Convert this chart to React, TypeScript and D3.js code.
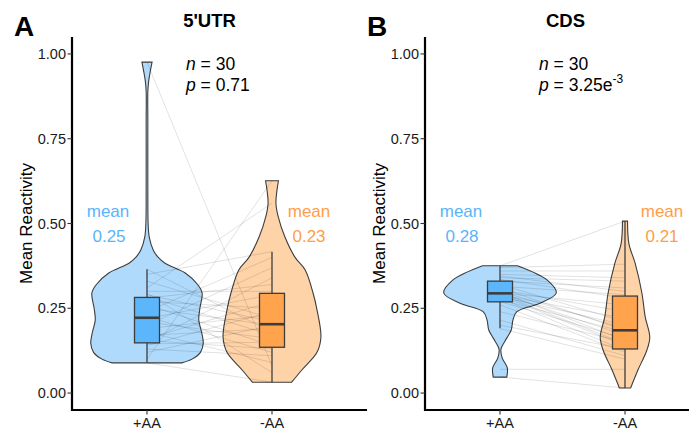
import React from 'react';
import * as d3 from 'd3';

// ---- data ----
const groups = ['+AA', '-AA'];
const panelTitles = ["5'UTR", 'CDS'];
const panelLetters = ['A', 'B'];
const yTicks = [0, 0.25, 0.5, 0.75, 1.0];

// paired samples (n = 30)
const utrPlus = [0.089, 0.10, 0.12, 0.13, 0.14, 0.145, 0.15, 0.155, 0.16, 0.17, 0.18, 0.19, 0.20, 0.21, 0.22, 0.225, 0.24, 0.25, 0.26, 0.27, 0.28, 0.285, 0.29, 0.295, 0.30, 0.31, 0.33, 0.35, 0.365, 0.976];
const utrMinus = [0.032, 0.626, 0.20, 0.11, 0.24, 0.15, 0.34, 0.13, 0.27, 0.19, 0.09, 0.23, 0.37, 0.16, 0.29, 0.12, 0.40, 0.20, 0.14, 0.25, 0.32, 0.17, 0.21, 0.06, 0.30, 0.56, 0.22, 0.417, 0.18, 0.08];
const cdsPlus = [0.047, 0.07, 0.19, 0.20, 0.215, 0.24, 0.26, 0.27, 0.275, 0.28, 0.285, 0.288, 0.29, 0.292, 0.294, 0.295, 0.298, 0.30, 0.305, 0.31, 0.315, 0.32, 0.33, 0.335, 0.34, 0.345, 0.35, 0.36, 0.37, 0.375];
const cdsMinus = [0.015, 0.07, 0.10, 0.13, 0.11, 0.15, 0.12, 0.16, 0.18, 0.125, 0.20, 0.14, 0.22, 0.145, 0.17, 0.26, 0.155, 0.19, 0.24, 0.185, 0.29, 0.21, 0.31, 0.28, 0.33, 0.30, 0.34, 0.36, 0.38, 0.507];

// violin outlines: reactivity level -> relative half width
const utrPlusLevels = [0.089, 0.10, 0.12, 0.147, 0.18, 0.215, 0.25, 0.295, 0.32, 0.354, 0.383, 0.40, 0.422, 0.46, 0.50, 0.60, 0.80, 0.89, 0.92, 0.95, 0.976];
const utrPlusWidths = [0.62, 0.80, 0.95, 1.0, 0.97, 0.92, 0.94, 0.98, 0.90, 0.68, 0.32, 0.20, 0.11, 0.04, 0.02, 0.015, 0.015, 0.015, 0.03, 0.06, 0.09];
const utrMinusLevels = [0.032, 0.068, 0.12, 0.165, 0.245, 0.295, 0.363, 0.40, 0.46, 0.52, 0.56, 0.60, 0.626];
const utrMinusWidths = [0.35, 0.53, 0.80, 0.87, 0.80, 0.73, 0.59, 0.41, 0.23, 0.11, 0.07, 0.09, 0.115];
const cdsPlusLevels = [0.047, 0.074, 0.103, 0.127, 0.136, 0.162, 0.186, 0.215, 0.24, 0.265, 0.295, 0.333, 0.3755];
const cdsPlusWidths = [0.12, 0.13, 0.04, 0.015, 0.03, 0.12, 0.20, 0.23, 0.30, 0.71, 1.0, 0.84, 0.31];
const cdsMinusLevels = [0.015, 0.068, 0.127, 0.165, 0.224, 0.295, 0.383, 0.44, 0.507];
const cdsMinusWidths = [0.10, 0.23, 0.39, 0.44, 0.36, 0.30, 0.18, 0.07, 0.045];

// box stats: [lower whisker, q1, median, q3, upper whisker]
const utrPlusBox = [0.089, 0.148, 0.222, 0.282, 0.365];
const utrMinusBox = [0.032, 0.135, 0.203, 0.294, 0.417];
const cdsPlusBox = [0.191, 0.269, 0.294, 0.330, 0.375];
const cdsMinusBox = [0.015, 0.130, 0.185, 0.286, 0.507];

const nLabels = ['30', '30'];
const pLabels = [['0.71', ''], ['3.25e', '-3']];
const meanPlus = ['0.25', '0.28'];
const meanMinus = ['0.23', '0.21'];

const panels = [
  { plus: utrPlus, minus: utrMinus,
    violins: [[utrPlusLevels, utrPlusWidths], [utrMinusLevels, utrMinusWidths]],
    boxes: [utrPlusBox, utrMinusBox] },
  { plus: cdsPlus, minus: cdsMinus,
    violins: [[cdsPlusLevels, cdsPlusWidths], [cdsMinusLevels, cdsMinusWidths]],
    boxes: [cdsPlusBox, cdsMinusBox] },
];

const W = 689;
const H = 436;
const panelLefts = [72, 425];
const panelW = 275;
const top = 37;
const bottom = 410;
const font = '"Liberation Sans", Arial, Helvetica, sans-serif';

const violinFill = ['#b0dafb', '#ffd3a8'];
const boxFill = ['#5cb6fb', '#ffa34c'];
const textCol = ['#5ab4fa', '#ff9d48'];
const edge = '#3d3d3d';

function Panel({ idx }: { idx: number }) {
  const p = panels[idx];
  const left = panelLefts[idx];
  const y = d3.scaleLinear().domain([-0.05, 1.05]).range([bottom, top]);
  const x = d3.scalePoint<string>().domain(groups).range([left, left + panelW]).padding(0.6);
  const halfMax = (x.step() * 0.9) / 2;
  const boxHalf = (x.step() * 0.2) / 2;

  const area = (cx: number) =>
    d3.area<[number, number]>()
      .y(d => y(d[0]))
      .x0(d => cx - d[1] * halfMax)
      .x1(d => cx + d[1] * halfMax)
      .curve(d3.curveCatmullRom.alpha(0.5));

  const ax = left;
  const cx0 = x(groups[0])!;
  const cx1 = x(groups[1])!;

  return (
    <g>
      {/* violins */}
      {p.violins.map(([lv, wd], g) => {
        const cx = x(groups[g])!;
        const pts = lv.map((v, i) => [v, wd[i]] as [number, number]);
        return (
          <path key={g} d={area(cx)(pts) || ''} fill={violinFill[g]} stroke={edge} strokeWidth={1.1} />
        );
      })}
      {/* paired lines */}
      {p.plus.map((v, i) => (
        <line key={i} x1={cx0} x2={cx1} y1={y(v)} y2={y(p.minus[i])}
          stroke="#000" strokeOpacity={0.2} strokeWidth={0.6} />
      ))}
      {/* boxplots */}
      {p.boxes.map((b, g) => {
        const cx = x(groups[g])!;
        return (
          <g key={g}>
            <line x1={cx} x2={cx} y1={y(b[0])} y2={y(b[4])} stroke={edge} strokeWidth={1.3} />
            <rect x={cx - boxHalf} y={y(b[3])} width={boxHalf * 2} height={y(b[1]) - y(b[3])}
              fill={boxFill[g]} stroke={edge} strokeWidth={1.3} />
            <line x1={cx - boxHalf} x2={cx + boxHalf} y1={y(b[2])} y2={y(b[2])} stroke={edge} strokeWidth={2.6} />
          </g>
        );
      })}
      {/* axes */}
      <line x1={ax} x2={ax} y1={top} y2={bottom + 1} stroke="#000" strokeWidth={2.2} />
      <line x1={ax - 1} x2={left + panelW + 20} y1={bottom} y2={bottom} stroke="#000" strokeWidth={2.2} />
      {yTicks.map(t => (
        <g key={t}>
          <line x1={ax - 4.5} x2={ax} y1={y(t)} y2={y(t)} stroke="#333" strokeWidth={1.1} />
          <text x={ax - 6} y={y(t)} dy="0.36em" textAnchor="end" fontSize={14.5} fill="#1a1a1a">
            {d3.format('.2f')(t)}
          </text>
        </g>
      ))}
      {groups.map(gname => (
        <g key={gname}>
          <line x1={x(gname)!} x2={x(gname)!} y1={bottom} y2={bottom + 4.5} stroke="#333" strokeWidth={1.1} />
          <text x={x(gname)!} y={bottom + 18} textAnchor="middle" fontSize={14.5} fill="#1a1a1a">{gname}</text>
        </g>
      ))}
      <text transform={`translate(${ax - 40},${(top + bottom) / 2}) rotate(-90)`} textAnchor="middle"
        fontSize={17} fill="#000">Mean Reactivity</text>
      {/* titles */}
      <text x={left + panelW / 2 + idx * 3} y={27} textAnchor="middle" fontSize={18.5} fontWeight="bold">{panelTitles[idx]}</text>
      <text x={left - 58} y={36} fontSize={28} fontWeight="bold">{panelLetters[idx]}</text>
      {/* annotations */}
      <text x={left + 114} y={70} fontSize={17.5}>
        <tspan fontStyle="italic">n</tspan> = {nLabels[idx]}
      </text>
      <text x={left + 114} y={91} fontSize={17.5}>
        <tspan fontStyle="italic">p</tspan> = {pLabels[idx][0]}
        {pLabels[idx][1] && <tspan dy={-8} fontSize={12}>{pLabels[idx][1]}</tspan>}
      </text>
      <text x={cx0 - 39} y={217} textAnchor="middle" fontSize={17} fill={textCol[0]}>mean</text>
      <text x={cx0 - 38} y={242} textAnchor="middle" fontSize={17} fill={textCol[0]}>{meanPlus[idx]}</text>
      <text x={cx1 + 37} y={217} textAnchor="middle" fontSize={17} fill={textCol[1]}>mean</text>
      <text x={cx1 + 37} y={242} textAnchor="middle" fontSize={17} fill={textCol[1]}>{meanMinus[idx]}</text>
    </g>
  );
}

export default function App() {
  return (
    <svg width={W} height={H} viewBox={`0 0 ${W} ${H}`}
      style={{ position: 'absolute', left: 0, top: 0, background: '#fff', fontFamily: font }}>
      <rect width={W} height={H} fill="#fff" />
      <Panel idx={0} />
      <Panel idx={1} />
    </svg>
  );
}
